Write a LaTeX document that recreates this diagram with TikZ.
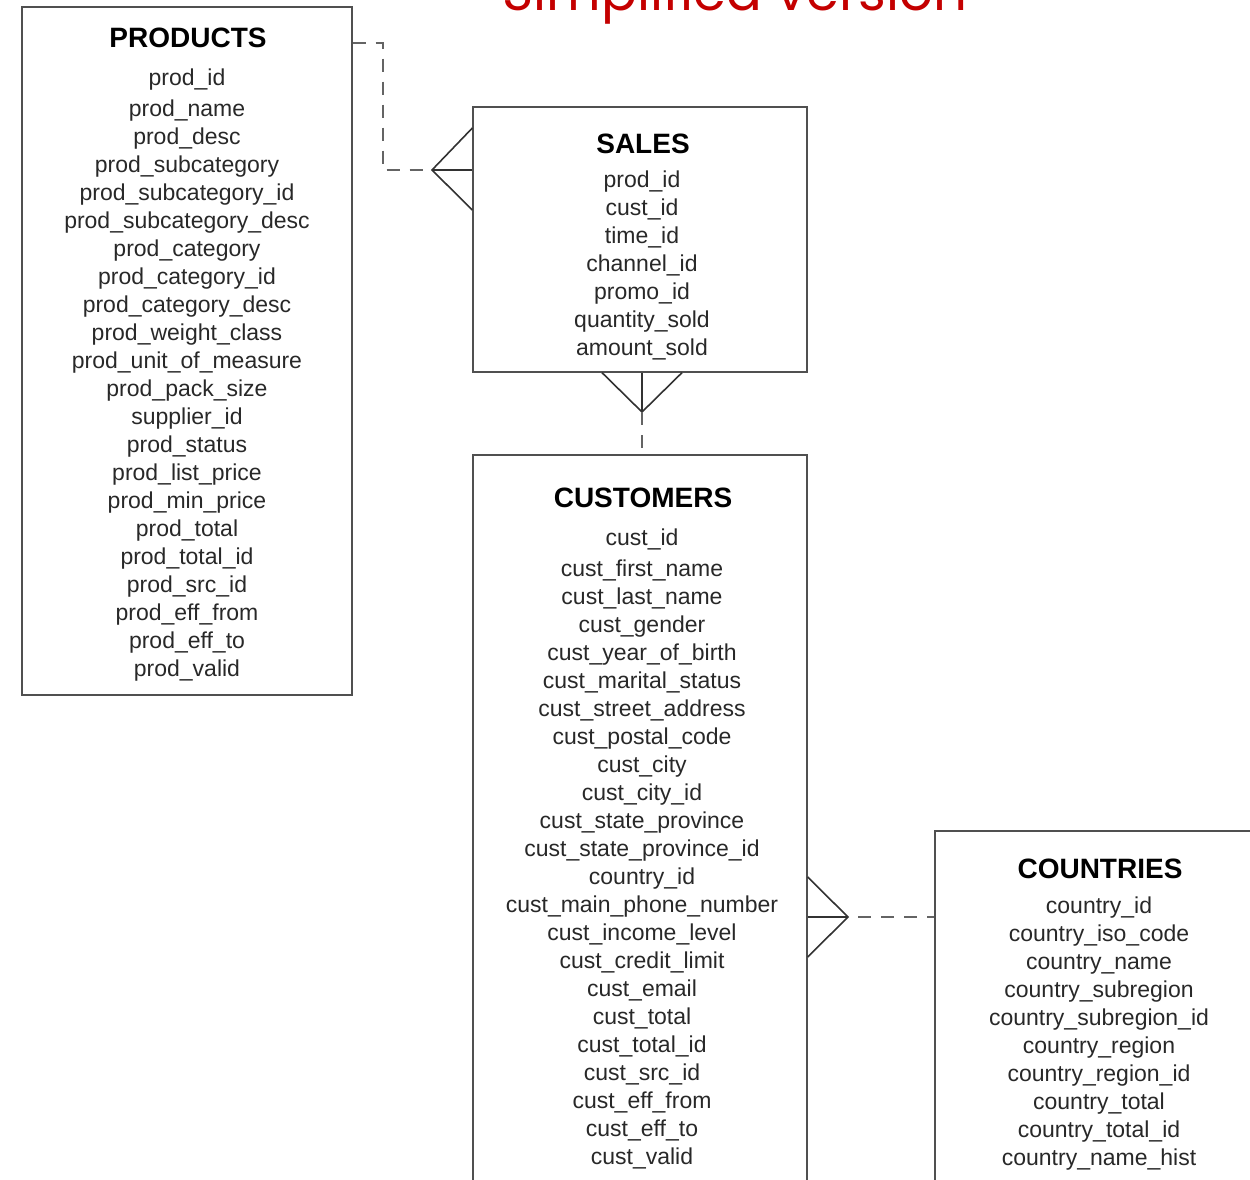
\documentclass[tikz,border=0pt]{standalone}
\usepackage{fontspec}
\setmainfont{Liberation Sans}
\newfontfamily\handfont{Poppins}
\definecolor{titlered}{RGB}{196,0,0}
\definecolor{boxline}{RGB}{80,80,80}
\definecolor{crowline}{RGB}{50,50,50}
\definecolor{relline}{RGB}{100,100,100}
\definecolor{fieldtext}{RGB}{40,40,40}
\begin{document}
\begin{tikzpicture}[x=1pt,y=-1pt,
  tbl/.style={draw=boxline, line width=1.3pt, inner sep=0pt},
  ttl/.style={font=\fontsize{28}{30}\selectfont\bfseries, text=black, inner sep=0pt, text height=20pt, text depth=0pt},
  fld/.style={font=\fontsize{23}{26}\selectfont, text=fieldtext, inner sep=0pt, text height=17pt, text depth=5pt},
  crow/.style={draw=crowline, line width=1.6pt},
  rel/.style={draw=relline, line width=1.6pt, dash pattern=on 13pt off 10pt}]
\useasboundingbox (0,0) rectangle (1250,1179);
\clip (0,0) rectangle (1250,1179);

% title (cut off at the top, as in the reference)
\node[font=\handfont\fontsize{53}{58}\selectfont, text=titlered, anchor=base, inner sep=0pt] (title) at (735,10) {Simplified version};

% tables
\node[tbl, minimum width=330pt, minimum height=688pt] (products) at (187,351) {};
\node[tbl, minimum width=334pt, minimum height=265pt] (sales) at (640,239.5) {};
\node[tbl, minimum width=334pt, minimum height=845pt] (customers) at (640,877.5) {};
\node[tbl, minimum width=465pt, minimum height=469pt] (countries) at (1167.5,1065.5) {};

% titles
\node[ttl] (productsT) at (188,37) {PRODUCTS};
\node[ttl] (salesT) at (643,143) {SALES};
\node[ttl] (customersT) at (643,497) {CUSTOMERS};
\node[ttl] (countriesT) at (1100,868) {COUNTRIES};

% fields
\foreach \t [count=\i] in {prod\_id, prod\_name, prod\_desc, prod\_subcategory, prod\_subcategory\_id,
  prod\_subcategory\_desc, prod\_category, prod\_category\_id, prod\_category\_desc, prod\_weight\_class,
  prod\_unit\_of\_measure, prod\_pack\_size, supplier\_id, prod\_status, prod\_list\_price, prod\_min\_price,
  prod\_total, prod\_total\_id, prod\_src\_id, prod\_eff\_from, prod\_eff\_to, prod\_valid}
  \node[fld] (pf\i) at (187,{ifthenelse(\i==1,79,82+28*(\i-1))}) {\t};

\foreach \t [count=\i] in {prod\_id, cust\_id, time\_id, channel\_id, promo\_id, quantity\_sold, amount\_sold}
  \node[fld] (sf\i) at (642,{181+28*(\i-1)}) {\t};

\foreach \t [count=\i] in {cust\_id, cust\_first\_name, cust\_last\_name, cust\_gender, cust\_year\_of\_birth,
  cust\_marital\_status, cust\_street\_address, cust\_postal\_code, cust\_city, cust\_city\_id,
  cust\_state\_province, cust\_state\_province\_id, country\_id, cust\_main\_phone\_number,
  cust\_income\_level, cust\_credit\_limit, cust\_email, cust\_total, cust\_total\_id, cust\_src\_id,
  cust\_eff\_from, cust\_eff\_to, cust\_valid}
  \node[fld] (cf\i) at (642,{ifthenelse(\i==1,539,542+28*(\i-1))}) {\t};

\foreach \t [count=\i] in {country\_id, country\_iso\_code, country\_name, country\_subregion,
  country\_subregion\_id, country\_region, country\_region\_id, country\_total, country\_total\_id,
  country\_name\_hist}
  \node[fld] (kf\i) at (1099,{907+28*(\i-1)}) {\t};

% PRODUCTS -- SALES
\coordinate (psturn) at (383,43);
\coordinate (psfoot) at (432,170);
\draw[rel] (products.east |- psturn) -- (psturn) -- (psturn |- psfoot) -- (psfoot);
\draw[crow] ([yshift=42pt]sales.west |- psfoot) -- (psfoot) -- ([yshift=-40pt]sales.west |- psfoot);
\draw[crow] (psfoot) -- (sales.west |- psfoot);

% SALES -- CUSTOMERS
\coordinate (scfoot) at (642,412);
\draw[crow] ([xshift=-40pt]scfoot |- sales.south) -- (scfoot) -- ([xshift=40pt]scfoot |- sales.south);
\draw[crow] (scfoot |- sales.south) -- (scfoot);
\draw[rel] (scfoot) -- (scfoot |- customers.north);

% CUSTOMERS -- COUNTRIES
\coordinate (ccfoot) at (848,917);
\draw[crow] ([yshift=40pt]customers.east |- ccfoot) -- (ccfoot) -- ([yshift=-40pt]customers.east |- ccfoot);
\draw[crow] (customers.east |- ccfoot) -- (ccfoot);
\draw[rel, dash phase=13pt] (ccfoot) -- (ccfoot -| countries.west);
\end{tikzpicture}
\end{document}
